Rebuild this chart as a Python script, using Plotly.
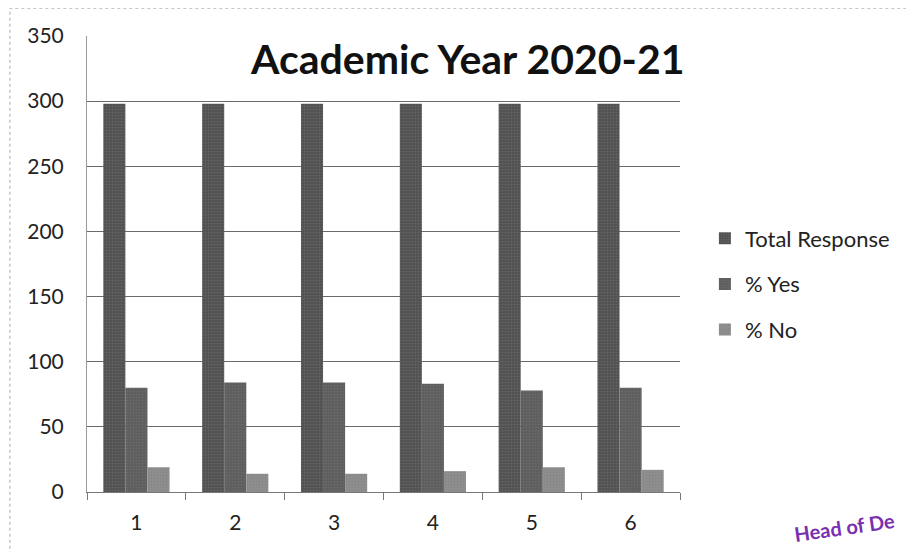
import plotly.graph_objects as go

categories = ["1", "2", "3", "4", "5", "6"]
total_response = [298, 298, 298, 298, 298, 298]
pct_yes = [80, 84, 84, 83, 78, 80]
pct_no = [19, 14, 14, 16, 19, 17]
y_ticks = [0, 50, 100, 150, 200, 250, 300, 350]

series = [
    ("Total Response", total_response, "#525252"),
    ("% Yes", pct_yes, "#5e5e5e"),
    ("% No", pct_no, "#8e8e8e"),
]

fig = go.Figure()
for i, (name, vals, col) in enumerate(series):
    fig.add_trace(go.Bar(
        x=categories, y=vals, name=name, legendgroup=name,
        marker=dict(color=col, line=dict(width=0),
                    pattern=dict(shape=".", fgcolor="#7a7a7a", bgcolor=col, size=3, solidity=0.25)),
    ))

font_family = "Lato, 'Open Sans', sans-serif"
fig.update_layout(
    width=906, height=544,
    margin=dict(l=79, r=234, t=28, b=60),
    paper_bgcolor="white", plot_bgcolor="white",
    barmode="group", bargap=0.33, bargroupgap=0,
    font=dict(family=font_family, size=21, color="#222222"),
    showlegend=True,
    legend=dict(x=1.042, y=0.602, xanchor="left", yanchor="top",
                font=dict(size=22, color="#222222"), tracegroupgap=14,
                itemwidth=30),
    xaxis=dict(showline=True, linecolor="#777777", ticks="outside", ticklen=7,
               tickcolor="#777777", tickson="boundaries", ticklabelstandoff=12,
               tickfont=dict(size=21, color="#222222"), showgrid=False),
    yaxis=dict(range=[0, 350], tickvals=y_ticks, showline=True, linecolor="#999999",
               ticks="", showgrid=True, gridcolor="#6a6a6a", gridwidth=1,
               ticklabelstandoff=18,
               tickfont=dict(size=21, color="#222222"), zeroline=False),
    annotations=[
        dict(text="<b>Academic Year 2020-21</b>", x=(467 - 87) / 593, y=1.0, xref="paper", yref="paper",
             xanchor="center", yanchor="middle", showarrow=False,
             font=dict(size=41, color="#111111", family=font_family), yshift=-22),
        dict(text="<b>Head of De</b>", x=1.0, y=-0.09, xref="paper", yref="paper",
             xanchor="right", yanchor="middle", showarrow=False, textangle=-8,
             font=dict(size=20, color="#7a2fb0", family=font_family), xshift=218, yshift=6),
    ],
    shapes=[
        dict(type="rect", xref="paper", yref="paper", x0=-0.13, x1=1.6, y0=-0.3, y1=1.061,
             line=dict(color="#aaaaaa", width=1, dash="dot"), fillcolor="rgba(0,0,0,0)", layer="below"),
    ],
)

fig.write_html("out.html")
